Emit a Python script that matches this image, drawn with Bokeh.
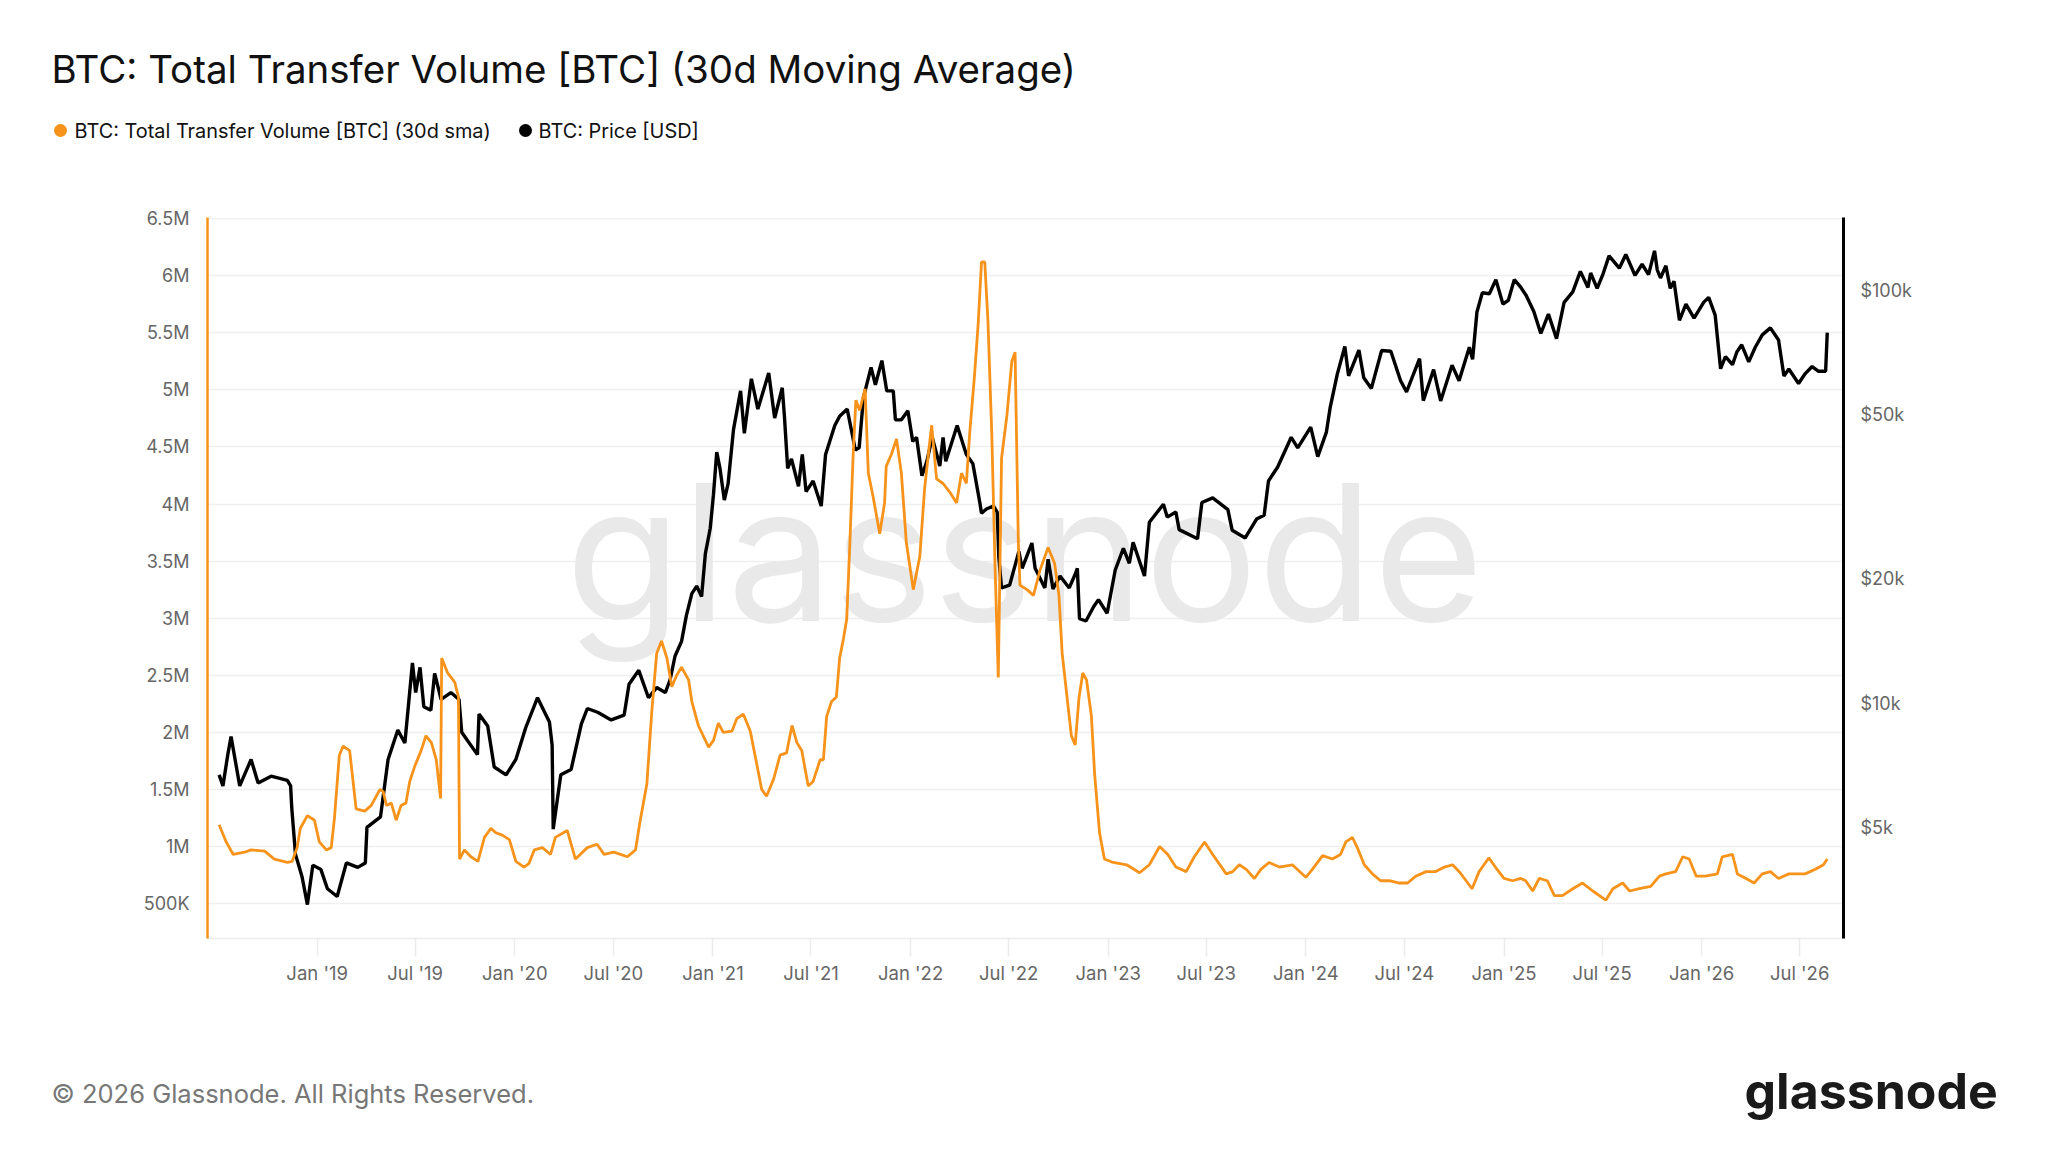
import pandas as pd
from bokeh.plotting import figure
from bokeh.layouts import column
from bokeh.models import Range1d, LogScale, LogAxis, FixedTicker, Label
from bokeh.core.properties import value
from bokeh.embed import file_html
from bokeh.resources import INLINE

# ---------------- data ----------------
vol_dates = [
    "2018-07-04", "2018-07-17", "2018-07-30", "2018-08-20", "2018-09-01", "2018-09-26", "2018-10-14",
    "2018-11-07", "2018-11-16", "2018-11-25", "2018-12-01", "2018-12-14", "2018-12-27", "2019-01-05",
    "2019-01-18", "2019-01-27", "2019-02-02", "2019-02-11", "2019-02-18", "2019-03-02", "2019-03-14",
    "2019-03-30", "2019-04-11", "2019-04-27", "2019-05-03", "2019-05-09", "2019-05-18", "2019-05-27",
    "2019-06-05", "2019-06-14", "2019-06-21", "2019-06-30", "2019-07-12", "2019-07-21", "2019-07-31",
    "2019-08-09", "2019-08-17", "2019-08-19", "2019-08-30", "2019-09-12", "2019-09-19", "2019-09-21",
    "2019-09-30", "2019-10-12", "2019-10-25", "2019-11-06", "2019-11-18", "2019-11-27", "2019-12-09",
    "2019-12-22", "2020-01-03", "2020-01-18", "2020-01-27", "2020-02-06", "2020-02-21", "2020-03-07",
    "2020-03-16", "2020-04-07", "2020-04-22", "2020-05-14", "2020-06-01", "2020-06-14", "2020-07-02",
    "2020-07-27", "2020-08-11", "2020-08-19", "2020-09-01", "2020-09-10", "2020-09-19", "2020-09-28",
    "2020-10-08", "2020-10-17", "2020-10-26", "2020-11-04", "2020-11-17", "2020-11-23", "2020-12-05",
    "2020-12-24", "2021-01-02", "2021-01-11", "2021-01-20", "2021-02-05", "2021-02-14", "2021-02-26",
    "2021-03-11", "2021-03-23", "2021-04-01", "2021-04-10", "2021-04-23", "2021-05-05", "2021-05-17",
    "2021-05-27", "2021-06-05", "2021-06-14", "2021-06-26", "2021-07-05", "2021-07-18", "2021-07-24",
    "2021-07-30", "2021-08-08", "2021-08-17", "2021-08-23", "2021-08-30", "2021-09-05", "2021-09-11",
    "2021-09-17", "2021-09-22", "2021-09-29", "2021-10-09", "2021-10-15", "2021-10-24", "2021-11-05",
    "2021-11-14", "2021-11-17", "2021-11-27", "2021-12-06", "2021-12-15", "2021-12-24", "2022-01-06",
    "2022-01-18", "2022-01-27", "2022-02-06", "2022-02-09", "2022-02-18", "2022-03-02", "2022-03-15",
    "2022-03-27", "2022-04-05", "2022-04-14", "2022-04-20", "2022-04-29", "2022-05-06", "2022-05-12",
    "2022-05-18", "2022-05-24", "2022-05-31", "2022-06-06", "2022-06-12", "2022-06-18", "2022-06-28",
    "2022-07-07", "2022-07-13", "2022-07-19", "2022-07-22", "2022-08-04", "2022-08-16", "2022-08-28",
    "2022-09-12", "2022-09-24", "2022-10-02", "2022-10-08", "2022-10-16", "2022-10-25", "2022-11-01",
    "2022-11-08", "2022-11-15", "2022-11-22", "2022-12-01", "2022-12-07", "2022-12-16", "2022-12-25",
    "2023-01-10", "2023-02-04", "2023-02-28", "2023-03-18", "2023-04-06", "2023-04-21", "2023-05-06",
    "2023-05-25", "2023-06-09", "2023-06-28", "2023-07-13", "2023-08-07", "2023-08-19", "2023-08-31",
    "2023-09-13", "2023-09-28", "2023-10-10", "2023-10-25", "2023-11-13", "2023-12-07", "2024-01-01",
    "2024-01-13", "2024-02-01", "2024-02-19", "2024-03-05", "2024-03-15", "2024-03-27", "2024-04-05",
    "2024-04-18", "2024-05-03", "2024-05-18", "2024-06-03", "2024-06-22", "2024-07-07", "2024-07-22",
    "2024-08-10", "2024-08-28", "2024-09-13", "2024-09-28", "2024-10-12", "2024-10-23", "2024-11-03",
    "2024-11-16", "2024-11-25", "2024-12-04", "2024-12-16", "2025-01-01", "2025-01-17", "2025-02-01",
    "2025-02-10", "2025-02-23", "2025-03-07", "2025-03-22", "2025-04-04", "2025-04-19", "2025-05-08",
    "2025-05-26", "2025-06-14", "2025-07-08", "2025-07-21", "2025-08-08", "2025-08-21", "2025-09-08",
    "2025-09-29", "2025-10-15", "2025-10-27", "2025-11-14", "2025-11-27", "2025-12-09", "2025-12-22",
    "2026-01-08", "2026-01-30", "2026-02-08", "2026-02-27", "2026-03-08", "2026-03-24", "2026-04-08",
    "2026-04-23", "2026-05-08", "2026-05-23", "2026-06-11", "2026-06-29", "2026-07-11", "2026-07-30",
    "2026-08-14", "2026-08-21",
]
vol_millions = [
    1.19, 1.04, 0.93, 0.95, 0.97, 0.96, 0.89,
    0.86, 0.87, 0.99, 1.16, 1.27, 1.23, 1.04,
    0.97, 0.99, 1.25, 1.80, 1.88, 1.84, 1.33,
    1.31, 1.36, 1.50, 1.48, 1.36, 1.38, 1.23,
    1.36, 1.38, 1.57, 1.70, 1.84, 1.97, 1.91,
    1.76, 1.42, 2.65, 2.52, 2.44, 2.31, 0.89,
    0.97, 0.91, 0.87, 1.08, 1.16, 1.12, 1.10,
    1.06, 0.87, 0.82, 0.85, 0.97, 0.99, 0.93,
    1.08, 1.14, 0.89, 0.99, 1.02, 0.93, 0.95,
    0.91, 0.97, 1.21, 1.55, 2.18, 2.69, 2.80,
    2.65, 2.40, 2.50, 2.57, 2.46, 2.27, 2.06,
    1.87, 1.93, 2.08, 2.00, 2.01, 2.12, 2.16,
    2.01, 1.72, 1.50, 1.44, 1.59, 1.80, 1.82,
    2.06, 1.91, 1.84, 1.53, 1.57, 1.76, 1.76,
    2.14, 2.27, 2.31, 2.65, 2.82, 2.99, 3.67,
    4.44, 4.91, 4.82, 5.01, 4.27, 4.06, 3.74,
    4.01, 4.33, 4.44, 4.57, 4.27, 3.67, 3.25,
    3.54, 4.14, 4.57, 4.69, 4.22, 4.18, 4.10,
    4.01, 4.27, 4.18, 4.61, 5.12, 5.59, 6.12,
    6.12, 5.59, 4.61, 3.46, 2.48, 4.40, 4.78,
    5.25, 5.33, 3.67, 3.29, 3.25, 3.20, 3.42,
    3.62, 3.48, 3.20, 2.69, 2.35, 1.97, 1.89,
    2.30, 2.52, 2.46, 2.14, 1.63, 1.12, 0.89,
    0.86, 0.84, 0.77, 0.84, 1.00, 0.93, 0.82,
    0.78, 0.91, 1.04, 0.93, 0.76, 0.78, 0.84,
    0.80, 0.72, 0.80, 0.86, 0.82, 0.84, 0.73,
    0.80, 0.92, 0.89, 0.93, 1.04, 1.08, 0.99,
    0.84, 0.76, 0.70, 0.70, 0.68, 0.68, 0.74,
    0.78, 0.78, 0.82, 0.84, 0.77, 0.70, 0.63,
    0.78, 0.84, 0.90, 0.82, 0.72, 0.70, 0.72,
    0.70, 0.61, 0.72, 0.70, 0.57, 0.57, 0.63,
    0.68, 0.61, 0.53, 0.63, 0.68, 0.61, 0.63,
    0.65, 0.74, 0.76, 0.78, 0.91, 0.89, 0.74,
    0.74, 0.76, 0.91, 0.93, 0.76, 0.72, 0.68,
    0.76, 0.78, 0.72, 0.76, 0.76, 0.76, 0.80,
    0.84, 0.89,
]

price_dates = [
    "2018-07-04", "2018-07-11", "2018-07-20", "2018-07-26", "2018-08-11", "2018-09-01", "2018-09-14",
    "2018-10-08", "2018-11-07", "2018-11-13", "2018-11-15", "2018-11-22", "2018-12-04", "2018-12-14",
    "2018-12-24", "2019-01-08", "2019-01-20", "2019-02-07", "2019-02-24", "2019-03-17", "2019-03-31",
    "2019-04-03", "2019-04-28", "2019-05-12", "2019-05-30", "2019-06-12", "2019-06-26", "2019-07-02",
    "2019-07-10", "2019-07-17", "2019-07-30", "2019-08-06", "2019-08-18", "2019-09-05", "2019-09-20",
    "2019-09-25", "2019-10-06", "2019-10-24", "2019-10-27", "2019-11-12", "2019-11-24", "2019-12-16",
    "2020-01-03", "2020-01-21", "2020-02-12", "2020-03-05", "2020-03-10", "2020-03-12", "2020-03-26",
    "2020-04-14", "2020-05-03", "2020-05-14", "2020-06-02", "2020-06-27", "2020-07-21", "2020-07-30",
    "2020-08-17", "2020-09-04", "2020-09-19", "2020-10-05", "2020-10-14", "2020-10-23", "2020-11-04",
    "2020-11-13", "2020-11-23", "2020-12-02", "2020-12-11", "2020-12-18", "2020-12-27", "2021-01-02",
    "2021-01-08", "2021-01-14", "2021-01-22", "2021-01-29", "2021-02-08", "2021-02-21", "2021-02-28",
    "2021-03-13", "2021-03-25", "2021-04-14", "2021-04-25", "2021-05-09", "2021-05-13", "2021-05-19",
    "2021-05-26", "2021-06-08", "2021-06-15", "2021-06-22", "2021-07-05", "2021-07-20", "2021-07-28",
    "2021-08-14", "2021-08-23", "2021-09-06", "2021-09-21", "2021-09-28", "2021-10-06", "2021-10-20",
    "2021-10-28", "2021-11-09", "2021-11-18", "2021-11-30", "2021-12-04", "2021-12-15", "2021-12-27",
    "2022-01-05", "2022-01-12", "2022-01-22", "2022-01-31", "2022-02-10", "2022-02-24", "2022-03-02",
    "2022-03-07", "2022-03-28", "2022-04-14", "2022-04-26", "2022-05-09", "2022-05-12", "2022-05-21",
    "2022-06-03", "2022-06-10", "2022-06-13", "2022-06-18", "2022-07-03", "2022-07-20", "2022-07-26",
    "2022-08-13", "2022-08-19", "2022-09-06", "2022-09-12", "2022-09-21", "2022-10-04", "2022-10-21",
    "2022-11-01", "2022-11-05", "2022-11-09", "2022-11-21", "2022-12-05", "2022-12-14", "2022-12-30",
    "2023-01-14", "2023-01-29", "2023-02-09", "2023-02-16", "2023-03-09", "2023-03-18", "2023-04-13",
    "2023-04-20", "2023-05-06", "2023-05-12", "2023-06-15", "2023-06-23", "2023-07-13", "2023-08-10",
    "2023-08-18", "2023-09-11", "2023-10-02", "2023-10-16", "2023-10-24", "2023-11-10", "2023-12-05",
    "2023-12-17", "2024-01-10", "2024-01-23", "2024-02-08", "2024-02-15", "2024-02-28", "2024-03-13",
    "2024-03-20", "2024-04-08", "2024-04-17", "2024-05-01", "2024-05-20", "2024-06-06", "2024-06-24",
    "2024-07-05", "2024-07-29", "2024-08-05", "2024-08-24", "2024-09-06", "2024-09-27", "2024-10-10",
    "2024-10-29", "2024-11-04", "2024-11-12", "2024-11-22", "2024-12-05", "2024-12-17", "2024-12-30",
    "2025-01-09", "2025-01-20", "2025-01-31", "2025-02-11", "2025-02-25", "2025-03-10", "2025-03-24",
    "2025-04-08", "2025-04-22", "2025-05-08", "2025-05-22", "2025-06-05", "2025-06-10", "2025-06-22",
    "2025-07-03", "2025-07-14", "2025-08-02", "2025-08-14", "2025-08-31", "2025-09-13", "2025-09-25",
    "2025-10-06", "2025-10-11", "2025-10-17", "2025-10-27", "2025-11-04", "2025-11-11", "2025-11-21",
    "2025-12-03", "2025-12-18", "2026-01-05", "2026-01-14", "2026-01-26", "2026-02-05", "2026-02-14",
    "2026-02-27", "2026-03-07", "2026-03-16", "2026-03-29", "2026-04-10", "2026-04-23", "2026-05-08",
    "2026-05-23", "2026-06-02", "2026-06-11", "2026-06-29", "2026-07-11", "2026-07-24", "2026-08-05",
    "2026-08-18", "2026-08-21",
]
price_usd = [
    6700, 6300, 7500, 8300, 6300, 7300, 6400,
    6650, 6500, 6300, 5600, 4300, 3800, 3250,
    4050, 3950, 3550, 3400, 4100, 4000, 4100,
    5000, 5300, 7300, 8600, 8000, 12500, 10600,
    12200, 9800, 9600, 11800, 10200, 10600, 10200,
    8500, 8100, 7500, 9400, 8800, 7000, 6700,
    7300, 8700, 10300, 9000, 7900, 4950, 6700,
    6900, 8900, 9700, 9500, 9100, 9350, 11100,
    12000, 10300, 10900, 10600, 11400, 13000, 14100,
    16300, 18400, 19200, 18100, 23000, 26500, 32000,
    40500, 37000, 31000, 34000, 46000, 57000, 45000,
    61000, 51500, 63000, 49000, 58000, 49500, 37000,
    39000, 33500, 40000, 32500, 34500, 30000, 40000,
    47000, 49500, 51500, 41000, 41500, 55000, 65000,
    59000, 67500, 57000, 57000, 48500, 48500, 51000,
    43000, 44000, 35500, 38500, 44000, 37500, 44000,
    38500, 47000, 40000, 38000, 30500, 28800, 29500,
    30000, 29000, 22500, 19000, 19300, 23300, 21200,
    24400, 21200, 19000, 22300, 18900, 20300, 19000,
    20500, 21200, 16000, 15800, 17100, 17800, 16500,
    21000, 23700, 21800, 24500, 20300, 27400, 30300,
    28200, 29000, 26300, 25000, 30600, 31400, 29400,
    26200, 25100, 27900, 28500, 34500, 37300, 44000,
    41500, 46600, 39500, 45300, 52000, 62500, 73000,
    62000, 71600, 61300, 57800, 71400, 71100, 60300,
    56700, 68200, 54000, 64200, 53900, 65800, 60300,
    72700, 68000, 88500, 98500, 98000, 106000, 92500,
    94500, 106000, 102000, 97000, 88700, 78500, 87500,
    76300, 93400, 99000, 111000, 101500, 110000, 101000,
    109500, 121000, 113000, 122000, 108500, 115500, 109000,
    124500, 112000, 107000, 114500, 101000, 105000, 84500,
    92500, 85500, 93500, 96000, 87000, 64500, 69000,
    66000, 70800, 73700, 67000, 72700, 77900, 81000,
    75700, 61900, 64400, 59400, 62700, 65300, 63600,
    63600, 78900,
]

left_ticks = [500000, 1000000, 1500000, 2000000, 2500000, 3000000, 3500000,
              4000000, 4500000, 5000000, 5500000, 6000000, 6500000]
left_tick_labels = ["500K", "1M", "1.5M", "2M", "2.5M", "3M", "3.5M",
                    "4M", "4.5M", "5M", "5.5M", "6M", "6.5M"]
right_ticks = [5000, 10000, 20000, 50000, 100000]
right_tick_labels = ["$5k", "$10k", "$20k", "$50k", "$100k"]
x_tick_dates = ["2019-01-01", "2019-07-01", "2020-01-01", "2020-07-01", "2021-01-01", "2021-07-01",
                "2022-01-01", "2022-07-01", "2023-01-01", "2023-07-01", "2024-01-01", "2024-07-01",
                "2025-01-01", "2025-07-01", "2026-01-01", "2026-07-01"]
x_tick_labels = ["Jan '19", "Jul '19", "Jan '20", "Jul '20", "Jan '21", "Jul '21", "Jan '22", "Jul '22",
                 "Jan '23", "Jul '23", "Jan '24", "Jul '24", "Jan '25", "Jul '25", "Jan '26", "Jul '26"]

title_text = "BTC: Total Transfer Volume [BTC] (30d Moving Average)"
legend_labels = ["BTC: Total Transfer Volume [BTC] (30d sma)", "BTC: Price [USD]"]
footer_text = "\u00a9 2026 Glassnode. All Rights Reserved."
brand_text = "glassnode"

# ---------------- helpers ----------------
def to_ms(dates):
    ts = pd.to_datetime(dates, format="ISO8601")
    return [float(v) for v in ((ts - pd.Timestamp("1970-01-01")) // pd.Timedelta("1ms"))]

ORANGE = "#f7931a"
FONT = "Inter"
GRAY = "#666666"
W = 2032
HEAD_H, MAIN_H, FOOT_H = 190, 820, 126

vol_x = to_ms(vol_dates)
vol_y = [v * 1e6 for v in vol_millions]
price_x = to_ms(price_dates)
x_ticks = to_ms(x_tick_dates)
x_start, x_end = to_ms(["2018-06-12T12:00:00", "2026-09-20T00:00:00"])


def text_panel(height, top):
    f = figure(width=W, height=height, output_backend="svg", toolbar_location=None,
               x_range=Range1d(0, W), y_range=Range1d(top + height, top),
               min_border=0, x_axis_location=None, y_axis_location=None)
    f.frame_align = False
    f.grid.visible = False
    f.outline_line_color = None
    f.background_fill_color = "white"
    f.border_fill_color = "white"
    return f

# ---------------- header ----------------
head = text_panel(HEAD_H, 0)
head.text(x=[51], y=[68], text=[title_text], text_font=value(FONT), text_font_size="38.5px",
          text_color="#111111", text_baseline="middle", text_align="left")
head.scatter(x=[60, 525], y=[130, 130], size=13, marker="circle",
             fill_color=[ORANGE, "#000000"], line_color=None)
head.text(x=[74, 538], y=[130.5, 130.5], text=legend_labels, text_font=value(FONT),
          text_font_size="19.9px", text_color="#111111", text_baseline="middle", text_align="left")

# ---------------- main chart ----------------
p = figure(width=W, height=MAIN_H, output_backend="svg", toolbar_location=None,
           x_range=Range1d(x_start, x_end), y_range=Range1d(194000, 6510000),
           min_border_left=207, min_border_right=W - 1850 + 7, min_border_top=217 - HEAD_H,
           min_border_bottom=HEAD_H + MAIN_H - 938)
p.frame_align = False
p.outline_line_color = None
p.background_fill_color = "white"
p.border_fill_color = "white"
p.extra_y_ranges = {"price": Range1d(2690, 149900)}
p.extra_y_scales = {"price": LogScale()}

xa = p.xaxis[0]
xa.ticker = FixedTicker(ticks=x_ticks)
xa.major_label_overrides = {t: l for t, l in zip(x_ticks, x_tick_labels)}
xa.axis_line_color = "#ececec"
xa.axis_line_width = 1.5
xa.major_tick_line_color = "#ececec"
xa.major_tick_line_width = 1.5
xa.major_tick_out = 18
xa.major_tick_in = 0
xa.minor_tick_line_color = None
xa.major_label_text_font = FONT
xa.major_label_text_font_size = "18.5px"
xa.major_label_text_color = GRAY
xa.major_label_standoff = 5
p.xgrid.visible = False

ya = p.yaxis[0]
ya.ticker = FixedTicker(ticks=left_ticks)
ya.major_label_overrides = {float(t): l for t, l in zip(left_ticks, left_tick_labels)}
ya.axis_line_color = ORANGE
ya.axis_line_width = 2.5
ya.major_tick_line_color = None
ya.minor_tick_line_color = None
ya.major_label_text_font = FONT
ya.major_label_text_font_size = "18px"
ya.major_label_text_color = GRAY
ya.major_label_standoff = 12
p.ygrid.ticker = FixedTicker(ticks=left_ticks)
p.ygrid.grid_line_color = "#efefef"
p.ygrid.grid_line_width = 1.5

ra = LogAxis(y_range_name="price", ticker=FixedTicker(ticks=right_ticks))
ra.major_label_overrides = {float(t): l for t, l in zip(right_ticks, right_tick_labels)}
ra.axis_line_color = "black"
ra.axis_line_width = 3
ra.major_tick_line_color = None
ra.minor_tick_line_color = None
ra.major_label_text_font = FONT
ra.major_label_text_font_size = "18px"
ra.major_label_text_color = GRAY
ra.major_label_standoff = 11
p.add_layout(ra, "right")

# watermark (frame-relative screen units)
p.add_layout(Label(x=358, y=386, x_units="screen", y_units="screen", text=brand_text,
                   text_align="left", text_baseline="middle", text_font=FONT,
                   text_font_size="189px", text_color="#e9e9e9", level="underlay"))

p.line(price_x, price_usd, y_range_name="price", line_color="black", line_width=3.4)
p.line(vol_x, vol_y, line_color=ORANGE, line_width=2.8)

# ---------------- footer ----------------
top_f = HEAD_H + MAIN_H
foot = text_panel(FOOT_H, top_f)
foot.text(x=[51], y=[1093], text=[footer_text], text_font=value(FONT), text_font_size="25.5px",
          text_color="#777777", text_baseline="middle", text_align="left")
foot.text(x=[1744], y=[1090], text=[brand_text], text_font=value(FONT), text_font_size="50px",
          text_font_style="bold", text_color="#1a1a1a", text_baseline="middle", text_align="left")

layout = column(head, p, foot, spacing=0)
open("out.html", "w").write(file_html(layout, INLINE))
